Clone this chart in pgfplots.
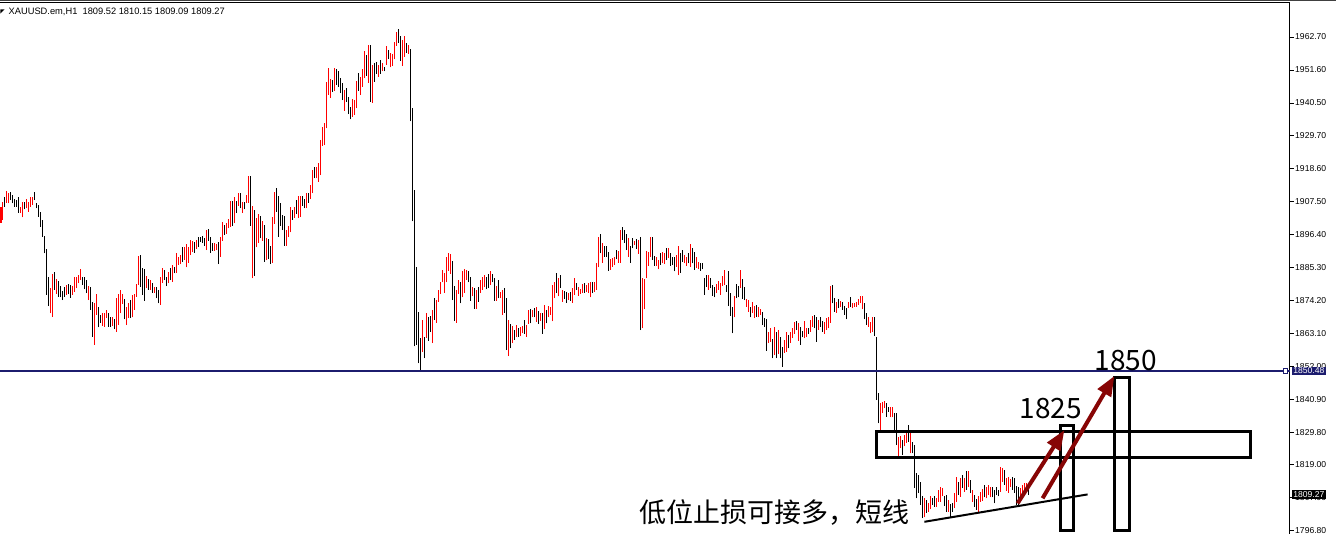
\documentclass[border=0pt]{standalone}
\usepackage{fontspec}
\setmainfont{Liberation Sans}
\newfontfamily\cjk{Noto Sans CJK SC}
\usepackage{pgfplots}
\pgfplotsset{compat=1.18}
\usepackage{pgfplotstable}
\usetikzlibrary{arrows.meta}
\definecolor{navyl}{RGB}{28,28,110}
\definecolor{arrowred}{RGB}{135,5,5}

\pgfplotstableread{
i l h c
0 1900.3 1905.7 1
1 1901.2 1907.4 1
2 1905.7 1909.0 0
3 1907.0 1911.1 1
4 1906.8 1910.2 1
5 1907.9 1910.6 0
6 1906.8 1909.6 0
7 1905.7 1908.1 0
8 1905.7 1907.9 0
9 1903.7 1909.0 0
10 1903.7 1905.7 1
11 1902.1 1907.4 1
12 1904.8 1907.4 0
13 1905.1 1908.1 1
14 1904.0 1907.4 1
15 1905.7 1908.8 1
16 1906.2 1909.0 1
17 1907.9 1910.6 0
18 1905.1 1906.8 0
19 1902.3 1906.2 0
20 1899.0 1904.0 0
21 1895.6 1901.2 0
22 1890.0 1895.8 0
23 1876.0 1891.3 0
24 1872.3 1882.2 0
25 1869.8 1878.2 1
26 1868.7 1883.1 1
27 1877.7 1883.7 0
28 1876.3 1881.3 1
29 1875.4 1880.8 0
30 1875.2 1879.0 0
31 1874.3 1877.5 0
32 1875.4 1878.8 0
33 1876.0 1879.4 1
34 1876.3 1879.7 0
35 1875.0 1879.5 0
36 1876.0 1879.0 1
37 1877.1 1881.9 1
38 1878.2 1882.2 1
39 1879.9 1882.7 1
40 1881.0 1884.6 1
41 1879.4 1882.2 0
42 1877.9 1881.9 0
43 1876.6 1881.0 0
44 1874.3 1879.0 1
45 1871.0 1878.8 0
46 1862.0 1873.8 0
47 1859.3 1873.4 1
48 1869.3 1876.3 1
49 1865.1 1872.1 0
50 1866.7 1869.3 0
51 1865.6 1869.8 1
52 1865.4 1869.8 1
53 1868.2 1871.0 1
54 1865.4 1869.8 0
55 1865.4 1868.7 0
56 1865.6 1868.7 1
57 1864.5 1867.8 0
58 1863.7 1874.9 1
59 1865.9 1876.3 1
60 1869.8 1877.7 1
61 1872.9 1876.3 1
62 1867.8 1874.5 0
63 1865.9 1872.1 1
64 1868.2 1873.2 1
65 1868.2 1874.3 0
66 1868.5 1876.0 1
67 1871.0 1876.3 1
68 1875.4 1879.7 1
69 1879.4 1889.1 1
70 1878.8 1889.4 0
71 1876.0 1885.0 0
72 1874.1 1884.7 0
73 1878.2 1882.4 1
74 1877.7 1881.5 0
75 1877.7 1881.0 1
76 1876.8 1880.1 0
77 1876.6 1878.8 1
78 1874.9 1878.8 0
79 1873.2 1877.7 0
80 1872.8 1882.2 1
81 1880.1 1885.0 1
82 1881.0 1884.4 0
83 1879.0 1882.2 0
84 1879.9 1883.8 1
85 1881.0 1885.0 0
86 1880.5 1886.1 1
87 1883.3 1885.5 0
88 1883.5 1890.0 1
89 1886.0 1888.7 1
90 1886.4 1889.4 1
91 1887.1 1892.2 0
92 1887.8 1892.2 1
93 1885.3 1893.1 1
94 1886.9 1892.2 1
95 1889.4 1894.5 1
96 1890.6 1894.3 1
97 1890.2 1893.9 0
98 1891.6 1894.5 1
99 1892.2 1895.6 0
100 1893.9 1895.6 0
101 1893.4 1895.8 0
102 1892.5 1895.0 0
103 1891.1 1897.9 1
104 1894.3 1898.3 0
105 1890.2 1895.6 0
106 1890.9 1893.4 0
107 1890.9 1893.4 1
108 1891.1 1893.1 1
109 1886.4 1893.9 0
110 1888.9 1895.6 1
111 1894.3 1900.6 1
112 1896.2 1899.5 0
113 1896.5 1900.3 1
114 1898.4 1901.4 1
115 1899.0 1907.6 1
116 1899.2 1907.6 0
117 1900.1 1909.0 1
118 1903.5 1907.7 0
119 1905.9 1910.4 1
120 1905.1 1910.2 0
121 1903.7 1907.4 1
122 1904.8 1907.4 0
123 1906.8 1909.6 1
124 1907.0 1916.0 1
125 1899.2 1916.0 0
126 1881.6 1905.9 1
127 1882.4 1904.6 0
128 1892.0 1901.8 1
129 1893.4 1903.2 1
130 1895.0 1902.6 0
131 1894.3 1901.0 1
132 1887.2 1899.5 0
133 1887.6 1895.0 1
134 1888.0 1894.7 0
135 1886.4 1892.3 0
136 1886.9 1902.3 1
137 1899.9 1910.7 1
138 1904.0 1911.9 0
139 1895.6 1909.1 0
140 1899.2 1907.0 0
141 1897.8 1902.9 0
142 1892.5 1902.6 0
143 1892.5 1897.9 1
144 1895.4 1899.2 1
145 1897.0 1905.7 1
146 1901.2 1904.6 0
147 1901.8 1905.7 1
148 1903.2 1907.9 0
149 1901.8 1909.3 1
150 1902.3 1909.1 1
151 1905.9 1909.1 0
152 1905.1 1908.2 0
153 1905.1 1910.2 1
154 1907.0 1910.4 0
155 1908.2 1913.0 1
156 1910.2 1918.0 1
157 1915.2 1919.1 0
158 1915.2 1918.9 1
159 1914.1 1920.3 1
160 1916.3 1928.1 1
161 1926.1 1932.6 1
162 1926.4 1933.7 1
163 1932.0 1947.7 1
164 1943.2 1952.2 1
165 1942.1 1948.5 1
166 1944.3 1948.2 0
167 1944.7 1952.2 1
168 1946.6 1951.8 0
169 1946.0 1951.4 0
170 1943.8 1948.8 0
171 1941.5 1947.1 0
172 1937.9 1944.9 1
173 1941.0 1945.5 0
174 1936.8 1942.4 0
175 1935.0 1939.1 0
176 1935.9 1941.8 1
177 1936.5 1941.5 1
178 1938.7 1948.0 1
179 1944.7 1950.7 0
180 1943.2 1949.1 1
181 1946.0 1951.8 1
182 1948.8 1958.1 1
183 1949.6 1956.6 0
184 1947.3 1960.0 1
185 1941.0 1960.0 0
186 1940.6 1953.3 1
187 1947.7 1953.8 0
188 1950.3 1954.4 0
189 1949.4 1953.3 1
190 1950.3 1955.0 0
191 1951.1 1953.9 1
192 1951.1 1952.7 0
193 1953.3 1959.5 1
194 1955.2 1958.3 0
195 1952.5 1957.2 1
196 1953.0 1957.0 1
197 1955.2 1961.1 1
198 1959.7 1964.3 1
199 1960.6 1965.4 0
200 1954.7 1963.0 0
201 1953.0 1961.7 1
202 1956.1 1963.0 1
203 1957.4 1960.8 0
204 1957.0 1960.0 1
205 1934.3 1958.6 0
206 1900.7 1938.7 0
207 1858.7 1911.3 0
208 1859.2 1885.5 0
209 1853.0 1870.4 0
210 1850.2 1861.4 0
211 1857.0 1867.6 1
212 1854.7 1862.0 0
213 1861.5 1870.1 1
214 1860.7 1868.5 0
215 1863.7 1868.9 0
216 1859.8 1871.0 1
217 1867.6 1874.9 0
218 1866.7 1874.3 1
219 1873.8 1877.7 1
220 1876.3 1880.2 1
221 1880.2 1884.4 1
222 1876.8 1883.5 1
223 1880.2 1888.9 1
224 1884.2 1890.0 1
225 1883.1 1889.8 1
226 1874.3 1887.5 0
227 1867.4 1879.0 0
228 1866.7 1877.7 1
229 1876.4 1881.1 1
230 1873.2 1880.5 0
231 1875.2 1884.2 1
232 1876.6 1884.6 1
233 1881.0 1884.4 1
234 1880.2 1883.9 0
235 1874.1 1882.2 0
236 1875.5 1878.8 1
237 1871.4 1878.3 0
238 1871.4 1877.7 1
239 1873.8 1878.8 0
240 1876.6 1881.1 1
241 1877.7 1882.2 1
242 1878.6 1882.7 1
243 1877.9 1882.2 0
244 1878.3 1883.1 0
245 1879.4 1883.9 1
246 1880.2 1883.1 0
247 1874.1 1881.6 0
248 1874.1 1879.0 1
249 1874.9 1881.1 0
250 1874.9 1877.1 1
251 1869.3 1877.7 1
252 1870.1 1878.3 0
253 1857.5 1874.9 0
254 1855.5 1867.6 1
255 1858.1 1866.3 0
256 1859.8 1865.6 1
257 1860.9 1864.3 0
258 1861.8 1865.9 1
259 1862.0 1864.8 0
260 1862.2 1865.1 1
261 1863.1 1865.6 1
262 1862.9 1867.6 0
263 1862.0 1865.9 1
264 1866.3 1871.0 1
265 1866.5 1871.2 0
266 1868.5 1871.0 1
267 1868.5 1871.5 0
268 1867.0 1872.1 1
269 1866.3 1870.7 0
270 1867.4 1870.1 1
271 1862.9 1870.1 0
272 1864.5 1872.6 1
273 1866.5 1871.0 0
274 1868.5 1872.3 1
275 1869.3 1872.1 1
276 1867.1 1879.4 1
277 1874.9 1880.2 1
278 1876.6 1883.3 0
279 1875.5 1881.6 1
280 1878.3 1882.7 0
281 1873.8 1877.7 1
282 1874.6 1877.5 0
283 1873.4 1877.1 0
284 1874.3 1876.8 1
285 1874.1 1877.1 0
286 1873.4 1878.2 1
287 1876.0 1881.6 1
288 1877.7 1880.1 0
289 1875.7 1878.8 1
290 1876.3 1877.9 1
291 1876.6 1879.7 1
292 1876.8 1880.1 0
293 1877.1 1879.4 1
294 1876.6 1879.9 1
295 1875.2 1880.5 1
296 1876.6 1880.5 0
297 1877.1 1880.5 1
298 1877.7 1886.9 1
299 1885.3 1895.4 1
300 1890.0 1896.5 0
301 1886.9 1893.6 1
302 1888.9 1892.3 0
303 1888.7 1892.5 0
304 1884.2 1890.6 0
305 1884.4 1888.0 1
306 1885.5 1888.3 1
307 1886.1 1888.7 1
308 1888.0 1891.1 0
309 1886.9 1890.9 1
310 1886.9 1897.9 1
311 1894.5 1899.0 0
312 1893.4 1897.9 0
313 1891.1 1896.5 0
314 1888.9 1895.0 1
315 1886.9 1892.3 0
316 1891.7 1895.0 0
317 1892.8 1894.3 1
318 1891.4 1894.7 0
319 1889.8 1894.5 1
320 1864.2 1895.6 0
321 1864.8 1881.6 1
322 1871.2 1881.3 1
323 1881.6 1890.9 1
324 1885.8 1890.6 1
325 1888.9 1895.6 1
326 1887.8 1895.6 0
327 1885.8 1889.1 0
328 1885.8 1888.9 1
329 1884.6 1887.8 1
330 1886.1 1890.0 0
331 1886.6 1890.6 1
332 1886.4 1890.0 1
333 1887.8 1891.7 0
334 1888.3 1891.7 1
335 1885.8 1890.0 0
336 1886.1 1888.9 0
337 1883.9 1888.9 0
338 1885.5 1889.5 1
339 1882.7 1892.3 1
340 1883.5 1890.0 0
341 1887.2 1891.1 0
342 1886.6 1889.5 1
343 1885.8 1888.9 1
344 1886.6 1890.0 0
345 1885.5 1893.1 1
346 1886.6 1891.7 0
347 1884.4 1890.6 0
348 1885.0 1888.9 1
349 1884.6 1887.2 1
350 1884.2 1886.9 0
351 1884.6 1886.6 0
352 1876.0 1881.6 0
353 1878.8 1882.7 0
354 1877.7 1882.7 1
355 1878.2 1881.6 0
356 1875.7 1879.4 0
357 1875.2 1878.8 0
358 1876.6 1879.7 1
359 1877.7 1880.8 1
360 1876.0 1879.9 1
361 1879.0 1882.4 1
362 1879.4 1884.4 1
363 1877.1 1879.4 0
364 1872.3 1884.2 0
365 1869.0 1876.6 0
366 1863.1 1872.1 0
367 1868.5 1875.7 1
368 1874.9 1879.7 0
369 1875.2 1879.0 0
370 1878.3 1884.4 1
371 1874.6 1881.3 0
372 1874.3 1878.8 0
373 1872.1 1874.6 1
374 1870.4 1874.3 1
375 1868.5 1872.1 0
376 1869.9 1873.8 1
377 1868.2 1872.3 1
378 1868.7 1872.7 0
379 1868.5 1872.1 1
380 1869.3 1871.2 1
381 1865.9 1870.4 0
382 1865.4 1868.2 0
383 1857.3 1867.8 0
384 1859.8 1863.7 1
385 1860.3 1864.8 1
386 1854.7 1861.1 0
387 1855.8 1865.2 1
388 1854.7 1863.7 0
389 1856.2 1864.2 1
390 1854.7 1862.0 0
391 1851.9 1858.4 0
392 1856.6 1860.9 1
393 1857.0 1863.7 1
394 1858.1 1862.6 0
395 1859.8 1863.4 1
396 1861.4 1864.8 1
397 1862.9 1867.0 1
398 1864.3 1867.4 0
399 1860.7 1866.5 1
400 1859.2 1865.4 0
401 1861.8 1864.0 0
402 1861.4 1867.4 1
403 1861.8 1864.8 1
404 1862.9 1864.8 0
405 1863.7 1867.6 1
406 1865.4 1869.0 1
407 1864.8 1869.3 0
408 1860.3 1868.7 0
409 1864.3 1867.6 1
410 1865.4 1868.7 0
411 1863.7 1867.4 0
412 1862.9 1867.0 1
413 1864.3 1868.2 1
414 1864.8 1868.7 1
415 1866.7 1879.0 1
416 1873.2 1879.4 0
417 1870.4 1874.9 0
418 1870.1 1873.8 1
419 1871.5 1874.6 0
420 1872.1 1874.1 1
421 1871.0 1873.8 0
422 1869.3 1872.3 0
423 1867.8 1871.5 0
424 1871.5 1873.8 1
425 1872.1 1875.2 0
426 1871.5 1873.2 1
427 1872.1 1873.4 1
428 1872.1 1873.8 1
429 1872.7 1874.6 1
430 1873.2 1875.7 1
431 1871.2 1875.5 1
432 1867.8 1873.2 0
433 1865.9 1869.9 0
434 1865.4 1868.7 1
435 1863.1 1867.0 1
436 1863.7 1868.7 1
437 1862.2 1868.7 0
438 1840.7 1862.0 0
439 1832.9 1843.0 0
440 1830.6 1839.6 1
441 1836.3 1840.2 1
442 1837.9 1840.5 1
443 1835.1 1839.6 0
444 1836.8 1838.5 0
445 1834.9 1838.5 1
446 1834.9 1838.3 1
447 1830.6 1836.3 0
448 1825.6 1836.3 0
449 1821.7 1828.4 1
450 1824.5 1828.6 1
451 1822.3 1827.3 0
452 1825.1 1829.0 1
453 1826.2 1829.5 1
454 1826.7 1832.3 0
455 1822.8 1830.7 1
456 1822.8 1826.7 0
457 1811.1 1825.6 0
458 1807.7 1816.1 0
459 1809.4 1815.5 0
460 1805.5 1813.3 0
461 1801.0 1808.3 0
462 1801.3 1807.7 1
463 1802.9 1807.1 0
464 1803.2 1806.0 1
465 1804.0 1808.3 1
466 1805.5 1807.7 0
467 1804.9 1808.3 0
468 1804.7 1807.7 1
469 1806.6 1810.5 1
470 1806.6 1811.4 1
471 1808.3 1811.1 1
472 1805.1 1808.3 0
473 1803.2 1808.8 0
474 1803.2 1807.1 1
475 1801.5 1805.8 0
476 1803.2 1806.0 0
477 1804.3 1809.4 1
478 1806.6 1814.7 1
479 1808.8 1813.3 0
480 1808.2 1814.4 1
481 1811.1 1815.5 0
482 1809.9 1814.4 1
483 1810.5 1817.0 0
484 1811.6 1816.7 1
485 1809.4 1813.9 0
486 1806.6 1810.5 1
487 1804.9 1808.8 0
488 1803.8 1807.4 0
489 1803.2 1808.5 1
490 1806.6 1809.9 1
491 1806.9 1810.7 1
492 1808.0 1812.2 0
493 1807.7 1811.6 1
494 1808.8 1812.2 1
495 1808.0 1811.4 1
496 1808.0 1811.4 0
497 1806.0 1810.5 0
498 1808.8 1811.4 0
499 1808.3 1810.5 0
500 1809.9 1818.1 1
501 1813.3 1817.8 1
502 1812.2 1817.2 0
503 1810.3 1814.4 1
504 1809.4 1814.7 1
505 1811.6 1814.1 1
506 1810.5 1815.0 0
507 1809.4 1814.4 0
508 1805.5 1811.8 0
509 1805.5 1811.4 0
510 1806.9 1811.1 1
511 1808.0 1812.2 1
512 1808.8 1812.7 1
513 1810.5 1812.9 1
514 1808.8 1811.6 0
}\bars

\begin{document}
\begin{tikzpicture}
\useasboundingbox (0,0) rectangle (1336pt,-534pt);
\fill[white] (0,0) rectangle (1336pt,-534pt);
\draw[black!75, line width=1pt] (0,-0.5pt) -- (1336pt,-0.5pt);
\fill[black] (0.3pt,-9.5pt) -- (4.5pt,-9.5pt) -- (0.3pt,-13.7pt) -- cycle;
\node[anchor=west, inner sep=0pt, font=\fontsize{9.3}{10}\selectfont] at (8.5pt,-12pt) {XAUUSD.em,H1\ \ 1809.52 1810.15 1809.09 1809.27};
\begin{axis}[
  at={(0pt,-3pt)}, anchor=north west,
  width=1290pt, height=531pt, scale only axis,
  xmin=-0.5, xmax=644.5, ymin=1795.7, ymax=1974.1,
  axis x line*=top, axis y line*=right,
  axis line style={black, line width=1pt},
  xtick=\empty,
  ytick={1962.7,1951.6,1940.5,1929.7,1918.6,1907.5,1896.4,1885.3,1874.2,1863.1,1852.0,1840.9,1829.8,1819.0,1807.9,1796.8},
  yticklabels={1962.70,1951.60,1940.50,1929.70,1918.60,1907.50,1896.40,1885.30,1874.20,1863.10,1852.00,1840.90,1829.80,1819.00,1807.90,1796.80},
  tick align=outside, major tick length=4pt,
  tick style={black, line width=0.8pt},
  yticklabel style={font=\fontsize{8.6}{10}\selectfont, anchor=west, inner sep=1pt},
  clip=false,
]
\addplot[draw=none, mark=none, restrict expr to domain={\thisrow{c}}{0.5:1.5},
  error bars/.cd, y dir=plus, y explicit, error mark=none,
  error bar style={draw=red, line width=1pt}]
  table[x=i, y=l, y error expr=\thisrow{h}-\thisrow{l}] {\bars};
\addplot[draw=none, mark=none, restrict expr to domain={\thisrow{c}}{-0.5:0.5},
  error bars/.cd, y dir=plus, y explicit, error mark=none,
  error bar style={draw=black, line width=1pt}]
  table[x=i, y=l, y error expr=\thisrow{h}-\thisrow{l}] {\bars};
\addplot[navyl, line width=1.6pt, mark=none] coordinates {(-0.5,1850.48) (644.5,1850.48)};
% price labels
\node[fill=navyl, text=white, anchor=west, inner sep=1.3pt, font=\fontsize{8.6}{10}\selectfont] at (axis cs:645.4,1850.48) {1850.48};
\node[fill=black, text=white, anchor=west, inner sep=1.3pt, font=\fontsize{8.6}{10}\selectfont] at (axis cs:645.4,1809.0) {1809.27};
\draw[navyl, fill=white, line width=0.8pt] (axis cs:641.2,1849.8) rectangle (axis cs:643.4,1851.2);
% annotation boxes
\draw[black, line width=3pt] (axis cs:438,1829.98) rectangle (axis cs:625,1821.34);
\draw[black, line width=3pt] (axis cs:530,1832.1) rectangle (axis cs:536.5,1796.8);
\draw[black, line width=3pt] (axis cs:557,1848.2) rectangle (axis cs:564.5,1797.0);
% trend line
\draw[black, line width=2pt] (axis cs:461.7,1799.8) -- (axis cs:543.3,1809.0);
% arrows
\draw[arrowred, line width=4pt, -{Triangle[length=20pt,width=15pt]}] (axis cs:508.3,1806.0) -- (axis cs:531.7,1830.6);
\draw[arrowred, line width=4pt, -{Triangle[length=20pt,width=15pt]}] (axis cs:520.8,1807.7) -- (axis cs:556.7,1848.8);
% texts
\node[anchor=base, inner sep=0pt, font=\cjk\fontsize{28}{30}\selectfont] at (axis cs:525,1834.35) {1825};
\node[anchor=base, inner sep=0pt, font=\cjk\fontsize{28}{30}\selectfont] at (axis cs:562.3,1850.6) {1850};
\node[anchor=base, inner sep=0pt, font=\cjk\fontsize{27}{30}\selectfont] at (axis cs:387,1799.7) {低位止损可接多，短线};
\end{axis}
\end{tikzpicture}
\end{document}
